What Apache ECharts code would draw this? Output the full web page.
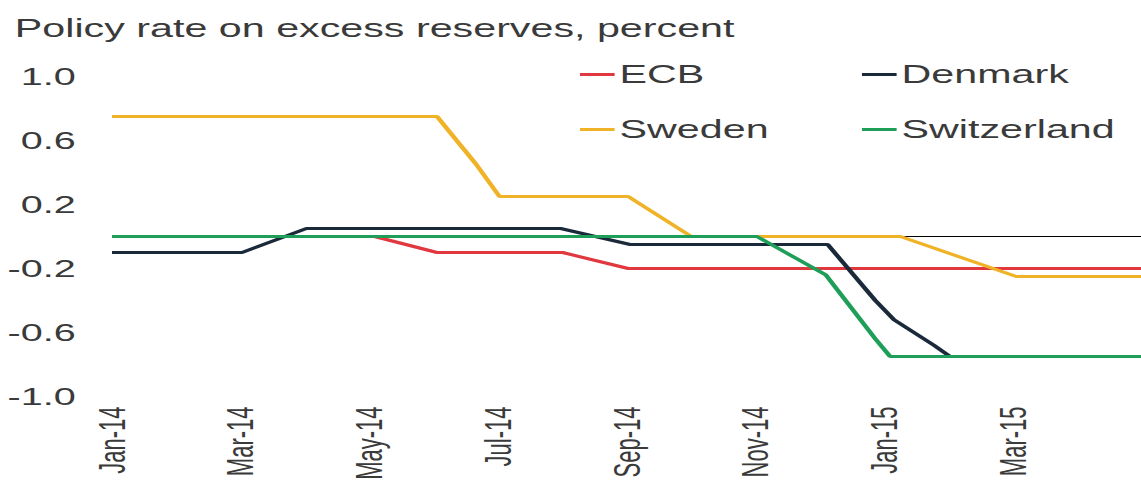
<!DOCTYPE html>
<html>
<head>
<meta charset="utf-8">
<script src="https://cdn.jsdelivr.net/npm/echarts@6/dist/echarts.min.js"></script>
<style>
  html, body { margin: 0; padding: 0; background: #fff; overflow: hidden; }
  #wrap { width: 1141px; height: 483px; overflow: hidden; }
  /* the source picture is stretched sideways, so draw narrow and widen it */
  #chart { width: 691.5px; height: 483px; transform: scaleX(1.65); transform-origin: 0 0; }
</style>
</head>
<body>
<div id="wrap"><div id="chart"></div></div>
<script>
// x = months since Jan-14, y = percent
const monthLabels = ['Jan-14', 'Mar-14', 'May-14', 'Jul-14', 'Sep-14', 'Nov-14', 'Jan-15', 'Mar-15']
const ecb = [[0, 0], [4.08, 0], [5.05, -0.1], [7.0, -0.1], [8.02, -0.2], [16, -0.2]]
const denmark = [[0, -0.1], [2.02, -0.1], [3.02, 0.05], [6.97, 0.05], [8.05, -0.05], [11.12, -0.05],
  [11.86, -0.4], [12.15, -0.52], [12.77, -0.68], [13.02, -0.75], [16, -0.75]]
const sweden = [[0, 0.75], [5.05, 0.75], [5.66, 0.45], [6.02, 0.25], [8.02, 0.25], [9.0, 0],
  [12.25, 0], [14.05, -0.25], [16, -0.25]]
const switzerland = [[0, 0], [10.02, 0], [11.09, -0.24], [11.86, -0.64], [12.09, -0.75], [16, -0.75]]
const zero = [[0, 0], [16, 0]]

const textColor = '#3a3a3a'
const font = 'Arial, "Liberation Sans", sans-serif'

const myChart = echarts.init(document.getElementById('chart'), null, { renderer: 'svg' })

function lineSeries(name, data, color, width) {
  return {
    name: name,
    type: 'line',
    data: data,
    symbol: 'none',
    lineStyle: { width: width || 3, color: color },
    itemStyle: { color: color },
    silent: true
  }
}

const legendBase = {
  orient: 'vertical',
  top: 62,
  padding: 0,
  icon: 'rect',
  itemWidth: 21,
  itemHeight: 3,
  itemGap: 30,
  textStyle: { fontSize: 25, color: textColor, fontFamily: font, padding: [0, 0, 0, -2] }
}

var option = {
  animation: false,
  title: {
    text: 'Policy rate on excess reserves, percent',
    left: 9,
    top: 16,
    padding: 0,
    textStyle: { fontSize: 25, fontWeight: 'normal', color: textColor, fontFamily: font }
  },
  legend: [
    Object.assign({ data: ['ECB', 'Sweden'], left: 351.5 }, legendBase),
    Object.assign({ data: ['Denmark', 'Switzerland'], left: 522.4 }, legendBase)
  ],
  grid: {
    left: 67.9,
    right: -6.7,
    top: 76.5,
    bottom: 86.5,
    containLabel: false
  },
  xAxis: {
    type: 'value',
    min: 0,
    max: 16,
    interval: 2,
    axisLine: { show: false },
    axisTick: { show: false },
    splitLine: { show: false },
    axisLabel: {
      rotate: 90,
      margin: 10,
      fontSize: 22,
      color: textColor,
      fontFamily: font,
      showMaxLabel: false,
      formatter: function (v) {
        return v % 2 === 0 ? (monthLabels[v / 2] || '') : ''
      }
    }
  },
  yAxis: {
    type: 'value',
    min: -1,
    max: 1,
    interval: 0.4,
    axisLine: { show: false },
    axisTick: { show: false },
    splitLine: { show: false },
    axisLabel: {
      margin: 22,
      fontSize: 24,
      color: textColor,
      fontFamily: font,
      formatter: function (v) {
        return v.toFixed(1)
      }
    }
  },
  series: [
    lineSeries('zero', zero, '#000', 1.2),
    lineSeries('ECB', ecb, '#e0383e'),
    lineSeries('Denmark', denmark, '#1b2a3a'),
    lineSeries('Sweden', sweden, '#f0b327'),
    lineSeries('Switzerland', switzerland, '#1f9e5a')
  ]
}

myChart.setOption(option)
</script>
</body>
</html>
